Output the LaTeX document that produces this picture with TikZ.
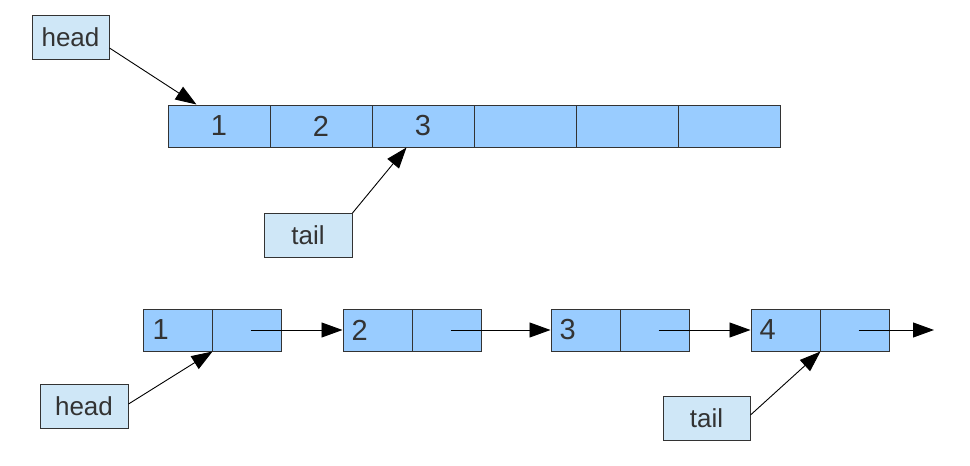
\documentclass[tikz,border=0pt]{standalone}
\usepackage{fontspec}
\setmainfont{Liberation Sans}
\usetikzlibrary{arrows.meta,calc}
\definecolor{cellblue}{HTML}{99CCFF}
\definecolor{lblblue}{HTML}{CFE7F7}
\definecolor{ink}{HTML}{333333}
\tikzset{
  cell/.style={draw=ink, line width=1pt, fill=cellblue, inner sep=0pt,
    minimum width=102pt, minimum height=42pt, font=\fontsize{29}{29}\selectfont, text=ink},
  lcell/.style={draw=ink, line width=1pt, fill=cellblue, inner sep=0pt,
    minimum width=69pt, minimum height=42pt},
  numtxt/.style={font=\fontsize{29}{29}\selectfont, text=ink, inner sep=0pt, anchor=west},
  lbl/.style={draw=ink, line width=1pt, fill=lblblue, inner sep=0pt,
    minimum height=44pt, font=\fontsize{26}{26}\selectfont, text=ink},
  ptr/.style={line width=0.9pt, draw=black, -{Triangle[length=21pt,width=15pt]}}
}
\begin{document}
\begin{tikzpicture}[x=1pt,y=-1pt]
\useasboundingbox (0,0) rectangle (970,466);
% top array
\node[cell] (a1) at (219,126) {1};
\node[cell] (a2) at (321,126) {2};
\node[cell] (a3) at (423,126) {3};
\node[cell] (a4) at (525,126) {};
\node[cell] (a5) at (627,126) {};
\node[cell] (a6) at (729,126) {};
\node[lbl, minimum width=77pt] (head1) at (70.5,37) {head};
\node[lbl, minimum width=88pt] (tail1) at (308,235.5) {tail};
\draw[ptr] ([yshift=-11pt]head1.east) -- ($(a1.north west)+(29,0)$);
\draw[ptr] (tail1.north east) -- ($(a3.south west)+(35,0)$);
% linked list
\foreach \i/\x in {1/143,2/343,3/551,4/751}{
  \node[lcell] (n\i a) at (\x+34.5,330) {};
  \node[lcell] (n\i b) at (\x+103.5,330) {};
}
\node[numtxt] (t1) at ($(n1a.west)+(10,0)$) {1};
\node[numtxt] (t2) at ($(n2a.west)+(9,0)$) {2};
\node[numtxt] (t3) at ($(n3a.west)+(9,0)$) {3};
\node[numtxt] (t4) at ($(n4a.west)+(9,0)$) {4};
\coordinate (end) at (934,330);
\draw[ptr] ($(n1b.center)+(4,0)$) -- (n2a.west);
\draw[ptr] ($(n2b.center)+(4,0)$) -- (n3a.west);
\draw[ptr] ($(n3b.center)+(4,0)$) -- (n4a.west);
\draw[ptr] ($(n4b.center)+(4,0)$) -- (end);
\node[lbl, minimum width=88pt] (head2) at (84,406) {head};
\node[lbl, minimum width=87pt] (tail2) at (706.5,418) {tail};
\draw[ptr] ([yshift=2pt]head2.east) -- (n1a.south east);
\draw[ptr] ([yshift=3pt]tail2.east) -- (n4a.south east);
\end{tikzpicture}
\end{document}
